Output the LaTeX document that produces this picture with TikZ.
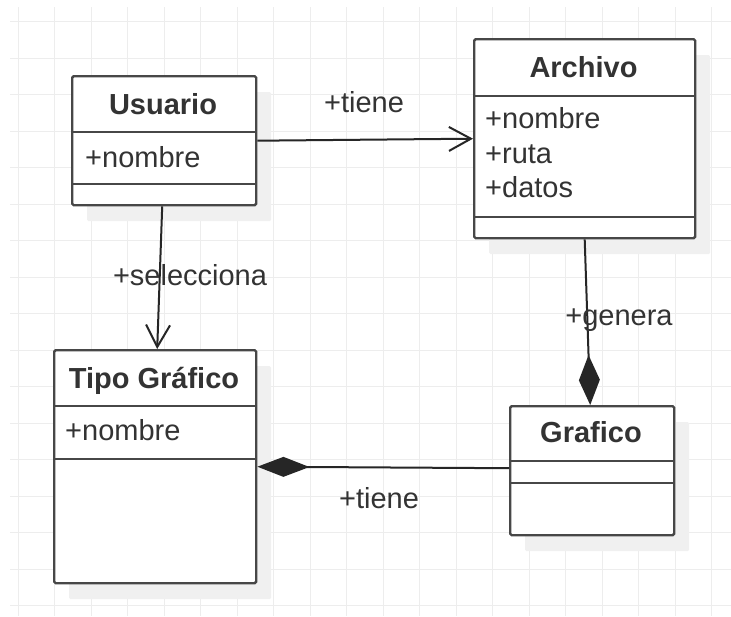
\documentclass[tikz,border=0pt]{standalone}
\usepackage{fontspec}
\setmainfont{Liberation Sans}
\usetikzlibrary{arrows.meta,shadows}

\tikzset{
  classbox/.style={draw=black!72, line width=2.4pt, fill=white, rounded corners=1.5pt,
    anchor=north west, inner sep=0pt,
    drop shadow={shadow xshift=15pt, shadow yshift=-16pt, fill=black!6, opacity=1}},
  divider/.style={draw=black!72, line width=2.4pt},
  title/.style={font=\fontsize{29}{35}\selectfont\bfseries, text=black!80, anchor=base},
  attr/.style={font=\fontsize{29}{35}\selectfont, text=black!80, anchor=base west, inner sep=0pt},
  role/.style={font=\fontsize{29}{35}\selectfont, text=black!80, anchor=base},
  assoc/.style={draw=black!85, line width=2pt},
  gridline/.style={draw=black!7, line width=1.3pt},
}

\begin{document}
\begin{tikzpicture}[x=1pt, y=-1pt]
        \useasboundingbox (0,0) rectangle (731,616);
        \fill[white] (0,0) rectangle (731,616);
        \draw[gridline, xshift=18.3pt, yshift=-21.7pt] (-8.3,-14.7) grid[step=36.5pt] (712.7,594.3);

        % clases
        \node[classbox, minimum width=184pt, minimum height=129pt] (usu) at (71,75) {};
        \node[classbox, minimum width=221pt, minimum height=199pt] (arc) at (473,38) {};
        \node[classbox, minimum width=202pt, minimum height=233pt] (tipo) at (53,349) {};
        \node[classbox, minimum width=164pt, minimum height=129pt] (graf) at (509,405) {};

        \draw[divider] (71,132) -- (255,132);
        \draw[divider] (71,184) -- (255,184);
        \draw[divider] (473,96) -- (694,96);
        \draw[divider] (473,217) -- (694,217);
        \draw[divider] (53,406) -- (255,406);
        \draw[divider] (53,459) -- (255,459);
        \draw[divider] (509,461) -- (673,461);
        \draw[divider] (509,483) -- (673,483);

        % nombres y atributos
        \node[title] (usuT) at (163,114.5) {Usuario};
        \node[attr] (usuA) at (85,167) {+nombre};

        \node[title] (arcT) at (583.5,77) {Archivo};
        \node[attr] (arcA) at (485,128) {+nombre};
        \node[attr] (arcB) at (485,163) {+ruta};
        \node[attr] (arcC) at (485,197) {+datos};

        \node[title] (tipoT) at (154,388) {Tipo Gráfico};
        \node[attr] (tipoA) at (65,440) {+nombre};

        \node[title] (grafT) at (591,442) {Grafico};

        % relaciones
        \begin{scope}[assoc]
            \draw[-{Straight Barb[length=22pt,width=24pt]}] (usu.east) -- (arc.west);
            \draw[-{Straight Barb[length=22pt,width=24pt]}] ([xshift=-2pt]usu.south) -- ([xshift=2pt]tipo.north);
            \draw[-{Diamond[length=50pt,width=21pt]}] (arc.south) -- ([xshift=-2pt]graf.north);
            \draw[{Diamond[length=52pt,width=20pt]}-] (tipo.east) -- ([yshift=2.5pt]graf.west);
        \end{scope}

        \node[role] (tiene1) at (364,112) {+tiene};
        \node[role] (selec) at (190,285) {+selecciona};
        \node[role] (genera) at (619,325) {+genera};
        \node[role] (tiene2) at (379,508) {+tiene};

\end{tikzpicture}
\end{document}
